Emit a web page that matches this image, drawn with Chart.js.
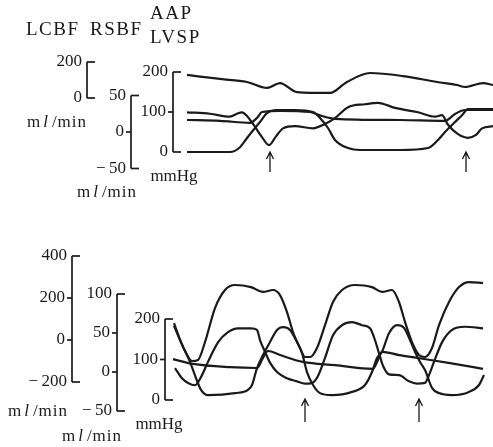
<!DOCTYPE html>
<html>
<head>
<meta charset="utf-8">
<script src="https://cdn.jsdelivr.net/npm/chart.js@4.4.1/dist/chart.umd.min.js"></script>
<style>
  html, body { margin: 0; padding: 0; background: #fff; }
  #wrap { position: relative; width: 493px; height: 447px; }
</style>
</head>
<body>
<div id="wrap"><canvas id="chart" width="493" height="447"></canvas></div>
<script>
// time axis in s (estimated)

// upper panel
const topLcbfT = [1.4, 4.7, 7.4, 9.4, 10.7, 12.4, 15.7, 17.4, 19.7, 23.0, 26.4, 28.4, 29.2, 31.0, 32.0];
const topLcbfV = [128, 106, 89, 56, 83, 33, 28, 89, 139, 122, 89, 72, 61, 83, 72];

const topRsbfT = [1.4, 3.7, 5.7, 6.4, 6.9, 7.4, 8.0, 8.9, 9.6, 10.3, 11.0, 12.2, 14.0, 15.2, 16.2, 17.5, 19.2, 20.5, 22.2, 24.5, 26.2, 26.9, 27.5, 28.5, 29.5, 30.3, 30.9, 32.0];
const topRsbfV = [27, 25, 21, 25, 27, 22, 11, -7, -18, -6, 5, 8, 5, 11, 19, 34, 38, 40, 33, 27, 21, 23, 10, -3, -8, -4, 5, 8];

const topAapT = [1.4, 4.7, 7.7, 8.4, 8.9, 10.7, 13.7, 14.9, 16.2, 22.7, 27.2, 28.2, 29.2, 32.0];
const topAapV = [80, 78, 73, 85, 100, 103, 100, 90, 83, 80, 78, 95, 105, 105];

const topLvspT = [1.4, 5.7, 6.7, 7.4, 8.2, 8.7, 9.4, 10.4, 12.2, 14.0, 14.7, 15.5, 16.2, 17.5, 18.7, 22.7, 25.5, 26.5, 27.2, 28.2, 28.9, 29.5, 30.7, 32.0];
const topLvspV = [0, 0, 12, 35, 60, 75, 97, 105, 105, 100, 85, 60, 30, 10, 5, 5, 10, 30, 50, 75, 92, 107, 107, 107];

// lower panel
const botLcbfT = [0.1, 0.7, 1.3, 1.9, 2.5, 3.2, 4.2, 5.2, 6.2, 7.8, 9.0, 10.0, 10.7, 11.4, 12.0, 12.7, 13.2, 13.7, 14.4, 15.2, 16.0, 16.9, 18.2, 19.9, 20.9, 21.9, 22.6, 23.2, 23.9, 24.6, 25.2, 25.9, 26.6, 27.6, 28.6, 29.6, 31.0];
const botLcbfV = [67, 0, -62, -100, -95, -10, 152, 238, 262, 252, 229, 238, 214, 133, 38, -38, -81, -81, -38, 71, 181, 238, 262, 252, 229, 238, 181, 86, -10, -71, -81, -38, 71, 181, 252, 276, 271];

const botRsbfT = [0.2, 0.9, 1.5, 2.2, 2.9, 3.5, 4.5, 5.5, 6.5, 7.8, 8.4, 8.7, 9.2, 9.7, 10.4, 11.4, 12.4, 13.2, 13.9, 14.5, 15.2, 16.0, 16.9, 17.9, 18.9, 19.7, 20.2, 20.6, 21.0, 21.6, 22.6, 23.6, 24.4, 25.2, 25.6, 26.1, 26.9, 27.9, 29.2, 31.0];
const botRsbfV = [5, -8, -14, -17, -4, 13, 38, 51, 56, 56, 54, 41, 26, 12, 0, -8, -12, -15, -14, -5, 18, 47, 60, 64, 60, 56, 41, 24, 8, -3, -4, -12, -15, -14, -4, 13, 38, 54, 58, 56];

const botAapT = [0.0, 2.0, 5.7, 8.4, 9.0, 9.5, 10.7, 13.0, 16.2, 20.0, 20.5, 20.9, 22.6, 24.4, 27.7, 31.0];
const botAapV = [101, 89, 81, 79, 104, 121, 111, 94, 86, 77, 99, 119, 111, 104, 91, 77];

const botLvspT = [0.1, 0.8, 1.7, 2.3, 2.8, 3.5, 6.2, 7.5, 7.9, 8.4, 9.0, 9.7, 10.4, 11.0, 11.7, 12.4, 12.9, 13.4, 14.0, 14.7, 15.9, 17.9, 19.2, 19.9, 20.4, 20.9, 21.6, 22.4, 23.1, 23.7, 24.2, 24.7, 25.2, 25.9, 26.6, 27.9, 29.6, 30.6, 31.1];
const botLvspV = [190, 143, 94, 54, 25, 12, 17, 25, 37, 79, 111, 143, 173, 180, 173, 143, 116, 69, 37, 17, 12, 20, 37, 69, 104, 119, 165, 185, 178, 148, 119, 94, 74, 30, 17, 12, 20, 37, 62];

// arrows (s)
const topArrows = [9.7, 29.3];
const botArrows = [13.2, 24.6];

// calibration bar ticks
const topLcbfTicks = [200, 0];
const topRsbfTicks = [50, 0, -50];
const topAapTicks = [200, 100, 0];
const botLcbfTicks = [400, 200, 0, -200];
const botRsbfTicks = [100, 50, 0, -50];
const botAapTicks = [200, 100, 0];

const H = 447;
// linear range so that v0 sits at pixel p0 and v1 at p1 over the whole canvas height
function span(v0, p0, v1, p1) {
  const k = (v1 - v0) / (p0 - p1);
  return { min: v0 - (H - p0) * k, max: v0 + p0 * k };
}

function pts(t, v) {
  return t.map((x, i) => ({ x: x, y: v[i] }));
}

function trace(t, v, axis) {
  return {
    data: pts(t, v),
    yAxisID: axis,
    borderColor: '#1a1a1a',
    borderWidth: 2.2,
    pointRadius: 0,
    fill: false,
    cubicInterpolationMode: 'monotone'
  };
}

const SERIF = '"Liberation Serif", "DejaVu Serif", serif';

const brackets = [
  { axis: 'yTopLcbf', x: 87, ticks: topLcbfTicks },
  { axis: 'yTopRsbf', x: 131, ticks: topRsbfTicks },
  { axis: 'yTopAap', x: 173, ticks: topAapTicks },
  { axis: 'yBotLcbf', x: 72, ticks: botLcbfTicks },
  { axis: 'yBotRsbf', x: 117, ticks: botRsbfTicks },
  { axis: 'yBotAap', x: 165, ticks: botAapTicks }
];

function fmt(v) {
  return v < 0 ? '\u2212\u2009' + Math.abs(v) : String(v);
}

function drawUnit(ctx, cx, cy) {
  ctx.letterSpacing = '1px';
  ctx.font = 'italic 17px ' + SERIF;
  const wb = ctx.measureText('l').width + 3;
  ctx.font = '17px ' + SERIF;
  const wa = ctx.measureText('m').width + 2;
  const wc = ctx.measureText('/min').width;
  const x = cx - (wa + wb + wc) / 2;
  ctx.textAlign = 'left';
  ctx.fillText('m', x, cy);
  ctx.font = 'italic 17px ' + SERIF;
  ctx.fillText('l', x + wa, cy);
  ctx.font = '17px ' + SERIF;
  ctx.fillText('/min', x + wa + wb, cy);
  ctx.letterSpacing = '0px';
}

const figurePlugin = {
  id: 'figure',
  afterDatasetsDraw(chart) {
    const ctx = chart.ctx;
    ctx.save();
    ctx.strokeStyle = '#1a1a1a';
    ctx.fillStyle = '#1a1a1a';
    ctx.lineWidth = 1.7;
    ctx.textBaseline = 'middle';

    brackets.forEach(b => {
      const sc = chart.scales[b.axis];
      const ys = b.ticks.map(v => sc.getPixelForValue(v));
      ctx.beginPath();
      ctx.moveTo(b.x, ys[0]);
      ctx.lineTo(b.x, ys[ys.length - 1]);
      ctx.stroke();
      ctx.font = '17px ' + SERIF;
      ctx.textAlign = 'right';
      b.ticks.forEach((v, i) => {
        const end = i === 0 || i === b.ticks.length - 1;
        ctx.beginPath();
        if (end) {
          ctx.moveTo(b.x, ys[i]);
          ctx.lineTo(b.x + 8, ys[i]);
        } else {
          ctx.moveTo(b.x - 5, ys[i]);
          ctx.lineTo(b.x, ys[i]);
        }
        ctx.stroke();
        ctx.fillText(fmt(v), b.x - (end ? 5 : 7), ys[i]);
      });
    });

    // arrows
    const xs = chart.scales.x;
    ctx.lineWidth = 1.3;
    function arrow(t, tip, tail) {
      const x = xs.getPixelForValue(t);
      ctx.beginPath();
      ctx.moveTo(x, tail);
      ctx.lineTo(x, tip);
      ctx.moveTo(x - 3.5, tip + 7);
      ctx.lineTo(x, tip);
      ctx.lineTo(x + 3.5, tip + 7);
      ctx.stroke();
    }
    topArrows.forEach(t => arrow(t, 152, 172));
    botArrows.forEach(t => arrow(t, 399, 422));

    // headings
    ctx.textAlign = 'left';
    ctx.font = '19px ' + SERIF;
    ctx.letterSpacing = '1.5px';
    ctx.fillText('LCBF', 26, 30);
    ctx.fillText('RSBF', 90, 30);
    ctx.fillText('AAP', 150, 14);
    ctx.fillText('LVSP', 150, 38);
    ctx.letterSpacing = '0px';

    // units
    drawUnit(ctx, 57, 123);
    drawUnit(ctx, 107, 193);
    drawUnit(ctx, 38, 412);
    drawUnit(ctx, 92, 437);
    ctx.font = '17px ' + SERIF;
    ctx.textAlign = 'center';
    ctx.fillText('mmHg', 174, 177);
    ctx.fillText('mmHg', 159, 425);
    ctx.restore();
  }
};

new Chart(document.getElementById('chart'), {
  type: 'line',
  data: {
    datasets: [
      trace(topLcbfT, topLcbfV, 'yTopLcbf'),
      trace(topRsbfT, topRsbfV, 'yTopRsbf'),
      trace(topAapT, topAapV, 'yTopAap'),
      trace(topLvspT, topLvspV, 'yTopAap'),
      trace(botLcbfT, botLcbfV, 'yBotLcbf'),
      trace(botRsbfT, botRsbfV, 'yBotRsbf'),
      trace(botAapT, botAapV, 'yBotAap'),
      trace(botLvspT, botLvspV, 'yBotAap')
    ]
  },
  options: {
    responsive: false,
    animation: false,
    events: [],
    layout: { padding: 0 },
    plugins: { legend: { display: false }, tooltip: { enabled: false } },
    scales: {
      x: { type: 'linear', display: false, min: -17.3, max: 32.0 },
      yTopLcbf: Object.assign({ type: 'linear', display: false }, span(0, 98, 200, 62)),
      yTopRsbf: Object.assign({ type: 'linear', display: false }, span(0, 132, 50, 95.5)),
      yTopAap: Object.assign({ type: 'linear', display: false }, span(0, 152, 200, 72)),
      yBotLcbf: Object.assign({ type: 'linear', display: false }, span(0, 340, 400, 256)),
      yBotRsbf: Object.assign({ type: 'linear', display: false }, span(0, 372, 100, 294)),
      yBotAap: Object.assign({ type: 'linear', display: false }, span(0, 400, 200, 319))
    }
  },
  plugins: [figurePlugin]
});
</script>
</body>
</html>
